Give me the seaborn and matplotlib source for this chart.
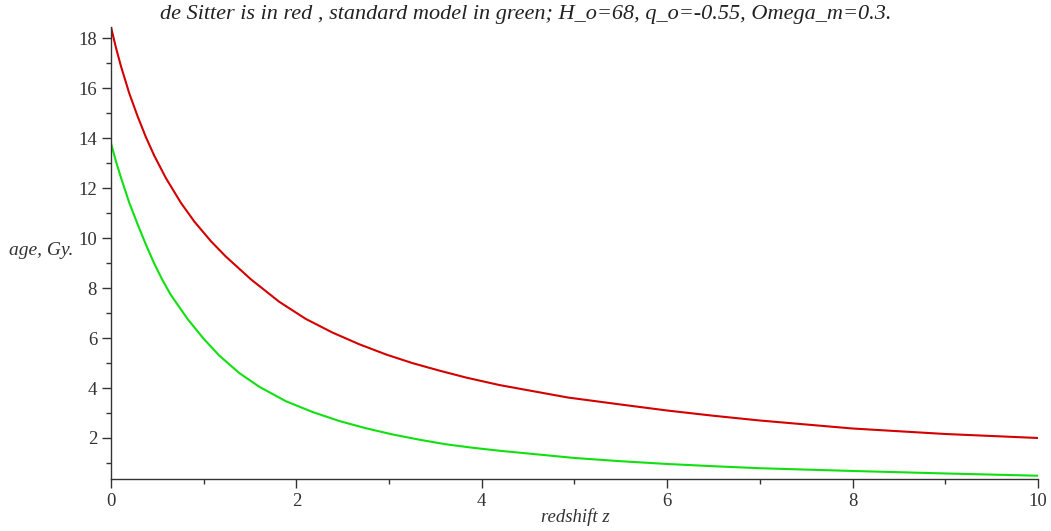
import numpy as np
import pandas as pd
import matplotlib
matplotlib.use("Agg")
import matplotlib.pyplot as plt
from matplotlib.ticker import MultipleLocator
import seaborn as sns

# values
z_red = [0, 0.054, 0.108, 0.197, 0.287, 0.377, 0.467, 0.593, 0.755, 0.9,
         1.08, 1.24, 1.51, 1.816, 2.1, 2.39, 2.68, 2.97, 3.25, 3.54, 3.83,
         4.19, 4.93, 5.5, 6.0, 6.5, 7.0, 8.0, 9.0, 10.0]
age_red = [18.45, 17.62, 16.88, 15.8, 14.88, 14.04, 13.3, 12.4, 11.41, 10.66,
           9.87, 9.26, 8.35, 7.45, 6.77, 6.22, 5.75, 5.34, 5.0, 4.7, 4.42,
           4.12, 3.62, 3.34, 3.1, 2.89, 2.7, 2.38, 2.16, 2.0]

z_green = [0, 0.054, 0.108, 0.197, 0.287, 0.377, 0.467, 0.557, 0.647, 0.827,
           1.0, 1.168, 1.384, 1.6, 1.888, 2.175, 2.463, 2.75, 3.04, 3.33,
           3.61, 3.9, 4.19, 5.0, 5.5, 6.0, 6.5, 7.0, 8.0, 9.0, 10.0]
age_green = [13.8, 13.07, 12.42, 11.42, 10.56, 9.74, 8.98, 8.31, 7.72, 6.76,
             5.97, 5.3, 4.6, 4.05, 3.47, 3.04, 2.68, 2.39, 2.14, 1.93,
             1.75, 1.61, 1.49, 1.2, 1.07, 0.96, 0.87, 0.79, 0.68, 0.58, 0.49]

x_ticks = [0, 2, 4, 6, 8, 10]
y_ticks = [2, 4, 6, 8, 10, 12, 14, 16, 18]

title = "de Sitter is in red , standard model in green; H_o=68, q_o=-0.55, Omega_m=0.3."

df_red = pd.DataFrame({"z": z_red, "age": age_red})
df_green = pd.DataFrame({"z": z_green, "age": age_green})

sns.set_style("ticks")
plt.rcParams["font.family"] = ["Liberation Serif", "DejaVu Serif"]

fig = plt.figure(figsize=(10.51, 5.31), dpi=100)
ax = fig.add_axes([0.1056, 0.098, 0.882, 0.851])

sns.lineplot(data=df_red, x="z", y="age", color="#d40000", linewidth=1.5, ax=ax)
sns.lineplot(data=df_green, x="z", y="age", color="#10e010", linewidth=1.5, ax=ax)

ax.set_xlim(0, 10)
ax.set_ylim(0.36, 18.45)
ax.set_xticks(x_ticks)
ax.set_yticks(y_ticks)
ax.xaxis.set_minor_locator(MultipleLocator(1))
ax.yaxis.set_minor_locator(MultipleLocator(1))
ax.tick_params(which="major", direction="out", length=6.5, width=1.0,
               color="#333333", labelsize=13.5, labelcolor="#333333")
ax.tick_params(which="minor", direction="out", length=3.5, width=1.0,
               color="#333333")
sns.despine(ax=ax)
for side in ["left", "bottom"]:
    ax.spines[side].set_color("#333333")
    ax.spines[side].set_linewidth(1.0)

ax.set_xlabel("")
ax.set_ylabel("")
fig.text(0.547, 0.026, "redshift z", ha="center", va="center",
         fontsize=13.5, style="italic", color="#333333")
fig.text(0.009, 0.529, "age, Gy.", ha="left", va="center",
         fontsize=14, style="italic", color="#333333")
fig.text(0.5, 0.972, title, ha="center", va="center",
         fontsize=16, style="italic", color="#222222")

fig.savefig("out.png", dpi=100)
